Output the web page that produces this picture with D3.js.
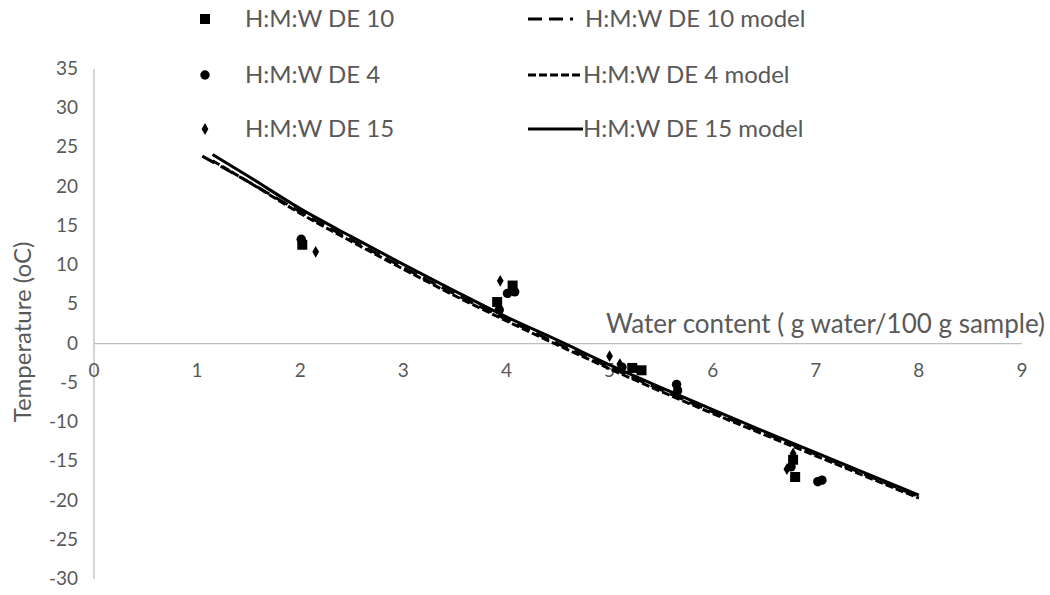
<!DOCTYPE html>
<html><head><meta charset="utf-8">
<script src="https://cdn.jsdelivr.net/npm/d3@7"></script>
<style>body{margin:0;background:#fff;} svg{display:block;font-family:Lato,"Open Sans",sans-serif;}</style>
</head><body><div id="chart"></div>
<script>
const xTicks = [0,1,2,3,4,5,6,7,8,9];
const yTicks = [35,30,25,20,15,10,5,0,-5,-10,-15,-20,-25,-30];

const de10Points = [[2.02,12.6],[3.91,5.3],[4.06,7.4],[5.22,-3.1],[5.31,-3.4],[6.78,-14.8],[6.80,-17.0]];
const de4Points = [[2.01,13.3],[4.01,6.4],[4.08,6.6],[3.93,4.3],[5.12,-3.0],[5.65,-5.2],[5.66,-6.0],[6.76,-15.7],[7.02,-17.6],[7.06,-17.4]];
const de15Points = [[2.15,11.7],[3.94,8.0],[5.00,-1.6],[5.10,-2.6],[6.72,-16.0],[6.78,-14.0]];

const de10Model = [[1.05,23.9],[1.5,20.6],[2,16.8],[2.5,13.2],[3,9.7],[3.5,6.3],[4,3.1],[4.5,0.0],[5,-3.0],[5.5,-5.9],[6,-8.7],[6.5,-11.4],[7,-14.1],[7.5,-16.8],[8,-19.5]];
const de4Model = [[1.15,23.3],[1.5,20.6],[2,16.6],[2.5,13.0],[3,9.5],[3.5,6.1],[4,2.9],[4.5,-0.2],[5,-3.2],[5.5,-6.1],[6,-8.9],[6.5,-11.6],[7,-14.3],[7.5,-17.0],[8,-19.7]];
const de15Model = [[1.15,24.1],[1.5,21.3],[2,17.2],[2.5,13.6],[3,10.1],[3.5,6.7],[4,3.4],[4.5,0.4],[5,-2.7],[5.5,-5.6],[6,-8.4],[6.5,-11.2],[7,-13.9],[7.5,-16.6],[8,-19.3]];

const W = 1050, H = 595;
const svg = d3.select("#chart").append("svg").attr("width", W).attr("height", H);
const x = d3.scaleLinear().domain([0,9]).range([94,1022]);
const y = d3.scaleLinear().domain([-30,35]).range([579,69]);
const grey = "#595959", axisCol = "#bfbfbf";

// axes lines
svg.append("line").attr("x1", x(0)).attr("x2", x(9)).attr("y1", y(0)).attr("y2", y(0)).attr("stroke", axisCol).attr("stroke-width",1.3);
svg.append("line").attr("x1", x(0)).attr("x2", x(0)).attr("y1", y(35)).attr("y2", y(-30)).attr("stroke", axisCol).attr("stroke-width",1.3);

// x tick labels (low position)
svg.append("g").selectAll("text").data(xTicks).join("text")
  .attr("x", d => x(d)).attr("y", 377).attr("text-anchor","middle")
  .attr("font-size", 19).attr("fill", grey).text(d => d);
// y tick labels
svg.append("g").selectAll("text").data(yTicks).join("text")
  .attr("x", 78).attr("y", d => y(d) + 6).attr("text-anchor","end")
  .attr("font-size", 19).attr("fill", grey).text(d => d);

// axis titles
svg.append("text").attr("x", 1045).attr("y", 333).attr("text-anchor","end")
  .attr("font-size", 26).attr("fill", grey).text("Water content ( g water/100 g sample)");
svg.append("text").attr("transform", "translate(31,332) rotate(-90)").attr("text-anchor","middle")
  .attr("font-size", 24).attr("fill", grey).text("Temperature (oC)");

// model lines
const line = d3.line().x(d => x(d[0])).y(d => y(d[1])).curve(d3.curveMonotoneX);
const models = [
  {data: de4Model, dash: "8,3"},
  {data: de10Model, dash: "14,7"},
  {data: de15Model, dash: null}
];
models.forEach(m => {
  svg.append("path").datum(m.data).attr("d", line).attr("fill","none")
    .attr("stroke","#000").attr("stroke-width",3)
    .attr("stroke-dasharray", m.dash);
});

// markers
const sq = d3.symbol().type(d3.symbolSquare).size(100);
const ci = d3.symbol().type(d3.symbolCircle).size(70);
const di = d3.symbol().type(d3.symbolDiamond).size(40);
function drawPts(data, sym) {
  svg.append("g").selectAll("path").data(data).join("path")
    .attr("d", sym).attr("transform", d => `translate(${x(d[0])},${y(d[1])})`).attr("fill","#000");
}
drawPts(de10Points, sq);
drawPts(de4Points, ci);
drawPts(de15Points, di);

// legend
const leg = svg.append("g");
const rows = [19, 75, 129];
const leftItems = [{label:"H:M:W DE 10", sym:sq},{label:"H:M:W DE 4", sym:ci},{label:"H:M:W DE 15", sym:di}];
leftItems.forEach((it,i) => {
  leg.append("path").attr("d", it.sym).attr("transform", `translate(205,${rows[i]})`).attr("fill","#000");
  leg.append("text").attr("x", 245).attr("y", rows[i]+8).attr("font-size", 24).attr("fill", grey).text(it.label);
});
const rightItems = [{label:"H:M:W DE 10 model", dash:"14,7", x2:573, tx:585},{label:"H:M:W DE 4 model", dash:"8,3", x2:583, tx:583},{label:"H:M:W DE 15 model", dash:null, x2:583, tx:583}];
rightItems.forEach((it,i) => {
  leg.append("line").attr("x1", 528).attr("x2", it.x2).attr("y1", rows[i]).attr("y2", rows[i])
    .attr("stroke","#000").attr("stroke-width",3).attr("stroke-dasharray", it.dash);
  leg.append("text").attr("x", it.tx).attr("y", rows[i]+8).attr("font-size", 24).attr("fill", grey).text(it.label);
});
</script></body></html>
